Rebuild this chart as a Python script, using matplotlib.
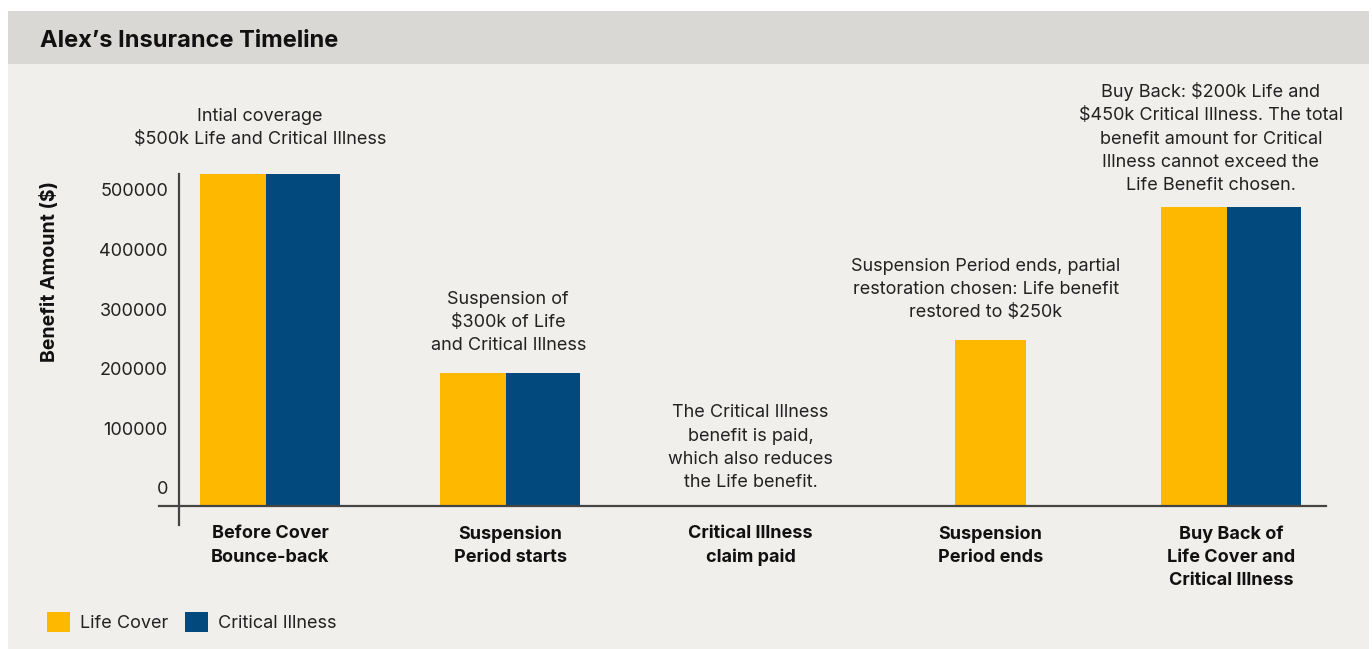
import matplotlib.pyplot as plt
from matplotlib.patches import Rectangle, Patch
import numpy as np

plt.rcParams['font.family'] = ['Inter', 'DejaVu Sans']

# данные
stages = ["Before Cover\nBounce-back", "Suspension\nPeriod starts", "Critical Illness\nclaim paid",
          "Suspension\nPeriod ends", "Buy Back of\nLife Cover and\nCritical Illness"]
life_cover = [500000, 200000, 0, 250000, 450000]
critical_illness = [500000, 200000, 0, 0, 450000]
notes = ["Intial coverage\n$500k Life and Critical Illness",
         "Suspension of\n$300k of Life\nand Critical Illness",
         "The Critical Illness\nbenefit is paid,\nwhich also reduces\nthe Life benefit.",
         "Suspension Period ends, partial\nrestoration chosen: Life benefit\nrestored to $250k",
         "Buy Back: $200k Life and\n$450k Critical Illness. The total\nbenefit amount for Critical\nIllness cannot exceed the\nLife Benefit chosen."]
yticks = [0, 100000, 200000, 300000, 400000, 500000]

YELLOW = '#FFB800'
BLUE = '#024A7D'
TXT = '#222222'

fig = plt.figure(figsize=(13.72, 6.49), dpi=100)
fig.patch.set_facecolor('white')
W, H = 1372, 649
fig.add_artist(Rectangle((8 / W, 0), 1361 / W, 1 - 11 / H, transform=fig.transFigure,
                         facecolor='#F0EFEB', edgecolor='none', zorder=0))
fig.add_artist(Rectangle((8 / W, 1 - 64 / H), 1361 / W, 53 / H, transform=fig.transFigure,
                         facecolor='#D9D8D4', edgecolor='none', zorder=0))
fig.text(40 / W, 1 - 41 / H, "Alex’s Insurance Timeline", fontsize=17, fontweight='bold',
         va='center', ha='left', color='#111111')

ax = fig.add_axes([179 / W, 1 - 506 / H, 1147 / W, 332 / H])
ax.set_facecolor('none')

x = np.arange(len(stages))
for i in x:
    if critical_illness[i] > 0:
        ax.bar(i - 0.2917, life_cover[i], width=0.275, align='edge', color=YELLOW)
        ax.bar(i - 0.0167, critical_illness[i], width=0.308, align='edge', color=BLUE)
    elif life_cover[i] > 0:
        ax.bar(i, life_cover[i], width=0.296, color=YELLOW)

ax.set_xlim(-0.379, 4.396)
ax.set_ylim(0, 500000)

# сдвиги подписей, px
dx = [-10, -2, 0, -5, -20]
dy = [26, 19, 15, 19, 13]
for i in x:
    top = max(life_cover[i], critical_illness[i])
    ax.annotate(notes[i], xy=(i, top), xytext=(dx[i] * 0.72, dy[i] * 0.72), textcoords='offset points',
                ha='center', va='bottom', fontsize=13, color=TXT, linespacing=1.48)

ax.set_xticks(x, stages, fontsize=13, fontweight='bold', color='#111111', linespacing=1.48)
ax.tick_params(axis='x', length=0, pad=14)
ax.set_yticks([])
for s in ax.spines.values():
    s.set_visible(False)

# оси с выступами
ax.plot([-20 / 1147, 1], [0, 0], transform=ax.transAxes, color='#444444', lw=1.6, clip_on=False)
ax.plot([0, 0], [-19 / 332, 1], transform=ax.transAxes, color='#444444', lw=1.6, clip_on=False)

# подписи оси Y
ax2 = ax.twinx()
ax2.yaxis.tick_left()
ax2.set_ylim(-30200, 526800)
ax2.set_yticks(yticks, [str(v) for v in yticks], fontsize=13, color=TXT)
ax2.tick_params(axis='y', length=0, pad=8)
for s in ax2.spines.values():
    s.set_visible(False)

fig.text(50 / W, 1 - 272 / H, "Benefit Amount ($)", rotation=90, fontsize=14, fontweight='bold',
         va='center', ha='center', color='#111111')

handles = [Patch(facecolor=YELLOW, label='Life Cover'), Patch(facecolor=BLUE, label='Critical Illness')]
fig.legend(handles=handles, loc='center left', bbox_to_anchor=(47 / W, 1 - 622 / H), ncol=2,
           frameon=False, fontsize=13, handlelength=1.28, handleheight=1.28,
           handletextpad=0.55, columnspacing=0.9, borderpad=0, borderaxespad=0, labelcolor=TXT)

fig.savefig('out.png', dpi=100)
